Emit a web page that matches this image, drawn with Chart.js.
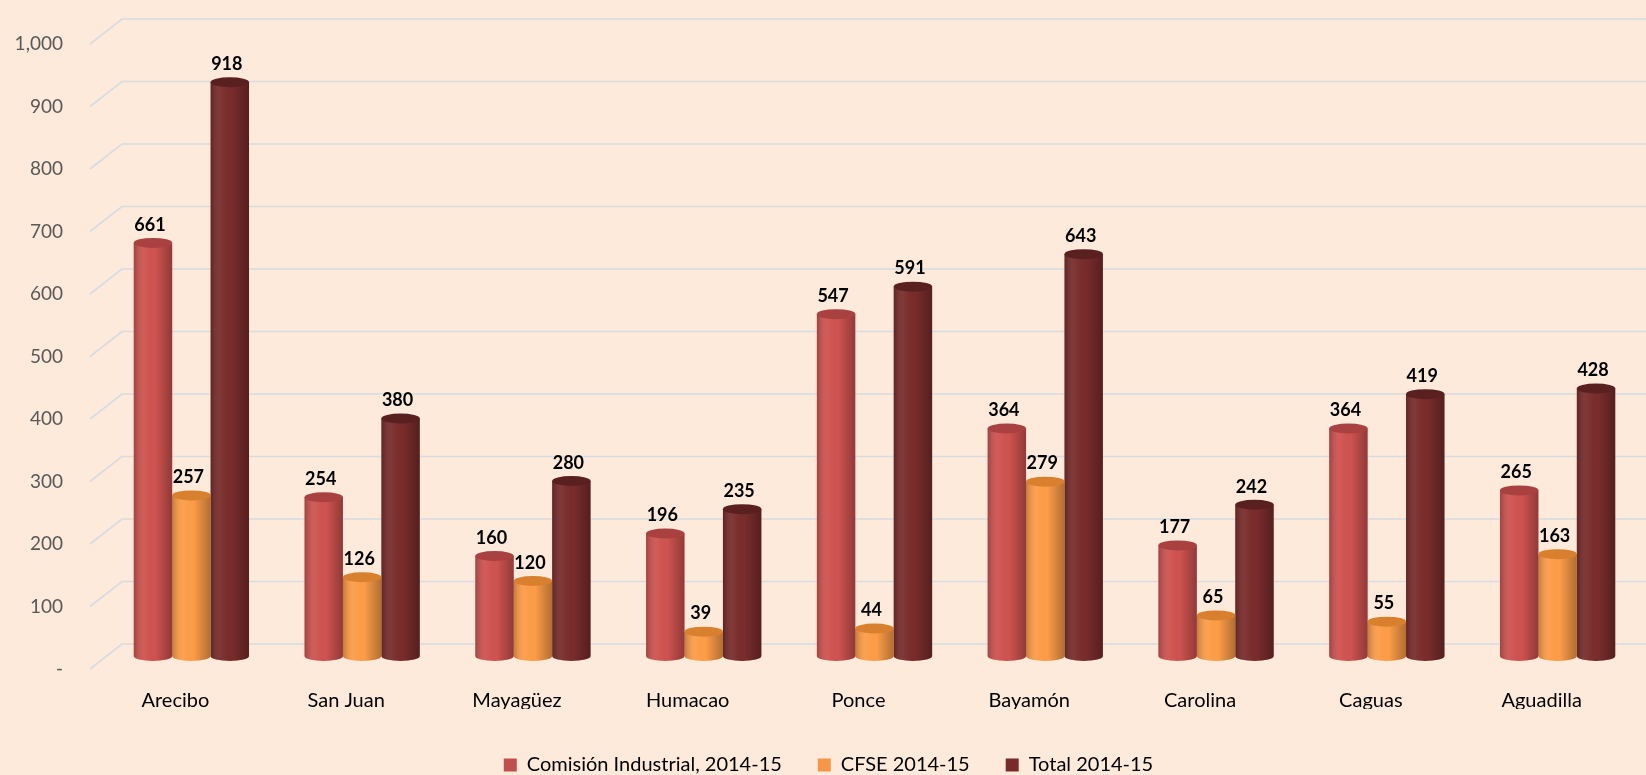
<!DOCTYPE html>
<html>
<head>
<meta charset="utf-8">
<script src="https://cdn.jsdelivr.net/npm/chart.js@4"></script>
<style>
  html, body { margin: 0; padding: 0; background: #FDEADA; }
  #wrap { width: 1646px; height: 775px; }
</style>
</head>
<body>
<div id="wrap"><canvas id="chart" width="1646" height="775"></canvas></div>
<script>
const categories = ["Arecibo", "San Juan", "Mayagüez", "Humacao", "Ponce", "Bayamón", "Carolina", "Caguas", "Aguadilla"];
const comisionValues = [661, 254, 160, 196, 547, 364, 177, 364, 265];
const cfseValues = [257, 126, 120, 39, 44, 279, 65, 55, 163];
const totalValues = [918, 380, 280, 235, 591, 643, 242, 419, 428];
const yTicks = [0, 100, 200, 300, 400, 500, 600, 700, 800, 900, 1000];

const FONT = "Lato, 'Open Sans', sans-serif";

// darker shade used for the cylinder tops
const topColors = ["#A8413F", "#D9802F", "#5A2020"];

// 3d-ish grid: back wall line + diagonal to the front at the axis
const gridPlugin = {
  id: "grid3d",
  beforeDatasetsDraw(chart) {
    const { ctx } = chart;
    const y = chart.scales.y;
    ctx.save();
    ctx.strokeStyle = "#D6DCE2";
    ctx.lineWidth = 1.6;
    yTicks.forEach((v) => {
      const py = y.getPixelForValue(v);
      ctx.beginPath();
      ctx.moveTo(90, py + 13);
      ctx.lineTo(122, py - 12);
      ctx.lineTo(chart.width, py - 12);
      ctx.stroke();
    });
    ctx.restore();
  },
  afterDatasetsDraw(chart) {
    const { ctx } = chart;
    ctx.save();
    chart.data.datasets.forEach((ds, di) => {
      const meta = chart.getDatasetMeta(di);
      meta.data.forEach((bar) => {
        const p = bar.getProps(["x", "y", "base", "width"], true);
        const l = p.x - p.width / 2;
        // shading across the cylinder
        const g = ctx.createLinearGradient(l, 0, l + p.width, 0);
        g.addColorStop(0, "rgba(0,0,0,0.22)");
        g.addColorStop(0.3, "rgba(255,255,255,0.04)");
        g.addColorStop(0.55, "rgba(0,0,0,0)");
        g.addColorStop(1, "rgba(0,0,0,0.30)");
        // bottom rounding
        ctx.fillStyle = ds.backgroundColor;
        ctx.beginPath();
        ctx.ellipse(p.x, p.base, p.width / 2, 5, 0, 0, Math.PI);
        ctx.fill();
        ctx.fillStyle = g;
        ctx.beginPath();
        ctx.ellipse(p.x, p.base, p.width / 2, 5, 0, 0, Math.PI);
        ctx.fill();
        ctx.fillRect(l, p.y, p.width, p.base - p.y);
        // top cap
        ctx.fillStyle = topColors[di];
        ctx.beginPath();
        ctx.ellipse(p.x, p.y, p.width / 2, 5, 0, 0, Math.PI * 2);
        ctx.fill();
      });
    });
    // value labels
    ctx.fillStyle = "#000";
    ctx.font = "bold 18px " + FONT;
    ctx.textAlign = "center";
    ctx.textBaseline = "middle";
    chart.data.datasets.forEach((ds, di) => {
      chart.getDatasetMeta(di).data.forEach((bar, i) => {
        const p = bar.getProps(["x", "y"], true);
        ctx.fillText(String(ds.data[i]), p.x - 3, p.y - 18);
      });
    });
    ctx.restore();
  },
  afterLayout(chart) {
    // legend sits a bit lower / right in the original
    const lg = chart.legend;
    lg.left += 7;
    lg.right += 7;
    lg.top += 10;
    lg.bottom += 10;
  },
};

new Chart(document.getElementById("chart"), {
  type: "bar",
  data: {
    labels: categories,
    datasets: [
      { label: "Comisión Industrial, 2014-15", data: comisionValues, backgroundColor: "#CF5350" },
      { label: "CFSE 2014-15", data: cfseValues, backgroundColor: "#FD9D48" },
      { label: "Total 2014-15", data: totalValues, backgroundColor: "#7A2C2C" },
    ],
  },
  options: {
    responsive: false,
    animation: false,
    layout: { padding: { top: 31, right: 3, left: 0, bottom: 0 } },
    datasets: { bar: { categoryPercentage: 0.675, barPercentage: 1.0, borderWidth: 0 } },
    scales: {
      x: {
        grid: { display: false, drawTicks: false },
        border: { display: false },
        ticks: { color: "#000", font: { family: FONT, size: 20 }, padding: 33, labelOffset: -16 },
        afterFit(s) { s.height = 53; },
      },
      y: {
        min: 0,
        max: 1000,
        grid: { display: false, drawTicks: false },
        border: { display: false },
        ticks: {
          stepSize: 100,
          color: "#595959",
          font: { family: FONT, size: 19 },
          padding: 43,
          labelOffset: 13,
          callback: (v) => (v === 0 ? "-" : v.toLocaleString("en-US")),
        },
        afterFit(s) {
          s.width = 106;
          s.paddingTop = 0;
          s.paddingBottom = 0;
        },
      },
    },
    plugins: {
      legend: {
        position: "bottom",
        labels: {
          color: "#404040",
          font: { family: FONT, size: 20 },
          boxWidth: 13,
          boxHeight: 13,
          padding: 36,
          generateLabels(chart) {
            const cols = ["#C0504D", "#F79646", "#772C2A"];
            return chart.data.datasets.map((ds, i) => ({
              text: ds.label,
              fillStyle: cols[i],
              strokeStyle: cols[i],
              lineWidth: 0,
              datasetIndex: i,
              hidden: false,
            }));
          },
        },
      },
      tooltip: { enabled: false },
    },
  },
  plugins: [gridPlugin],
});
</script>
</body>
</html>
